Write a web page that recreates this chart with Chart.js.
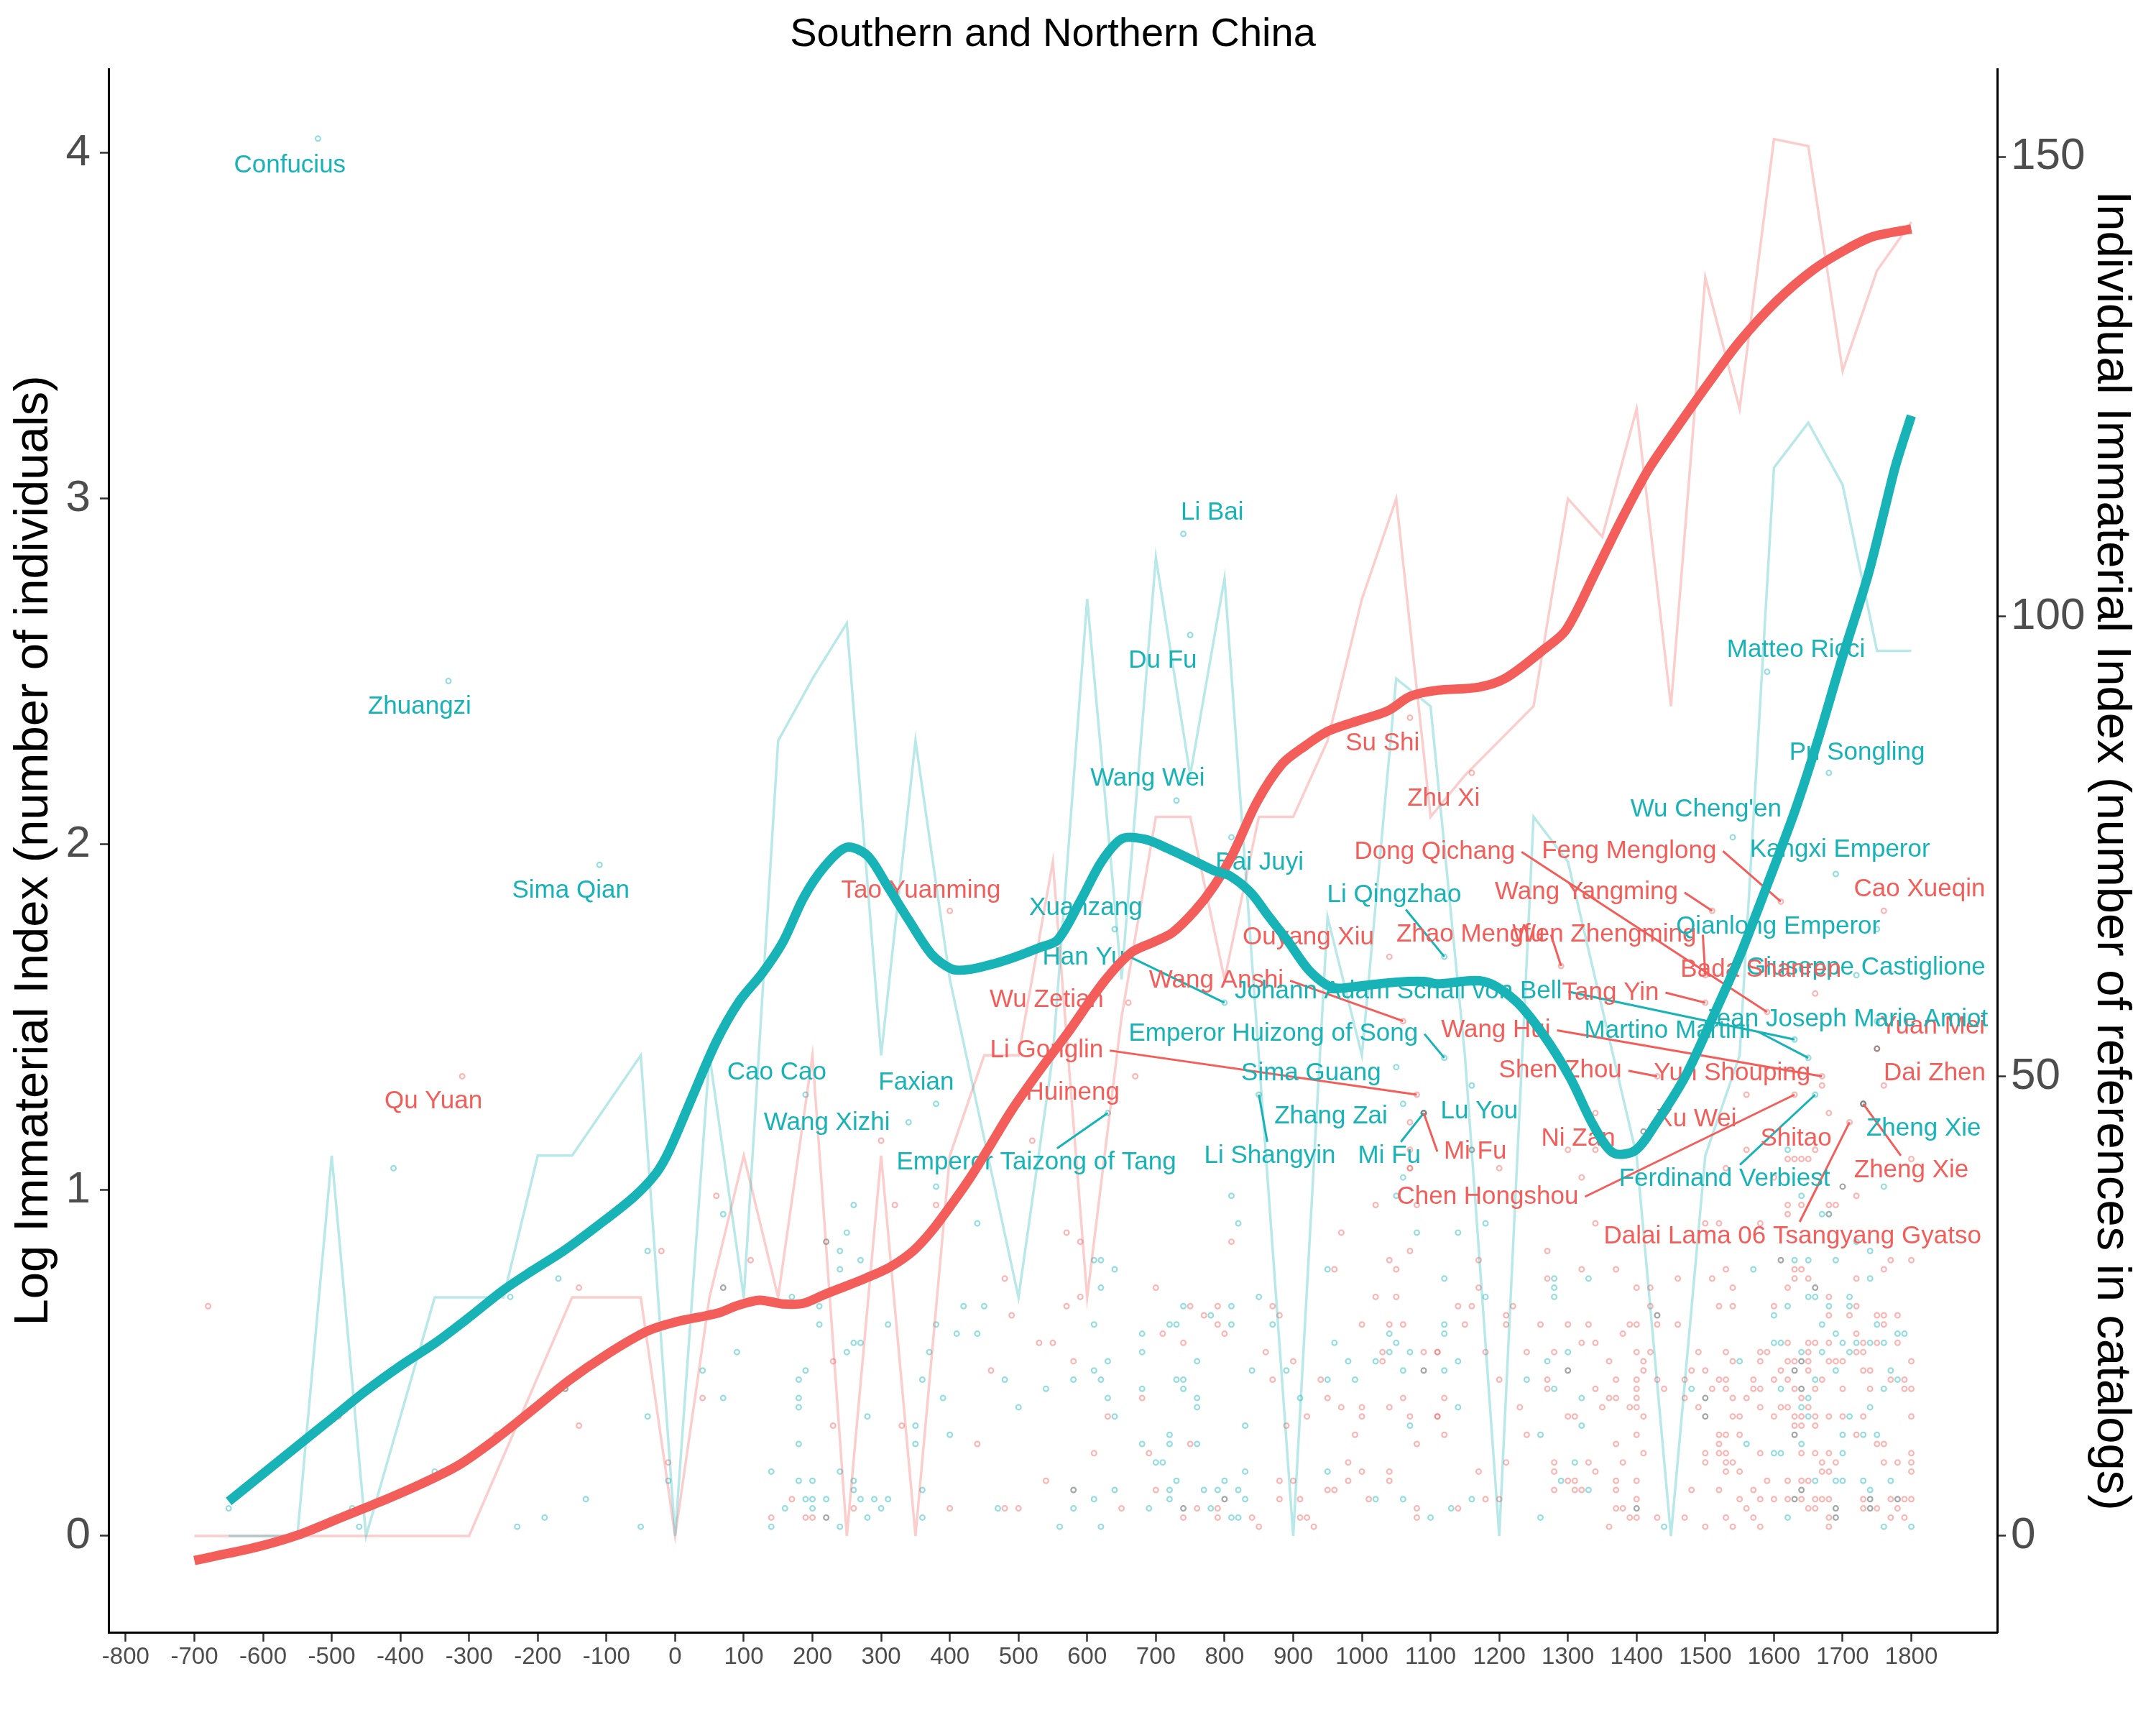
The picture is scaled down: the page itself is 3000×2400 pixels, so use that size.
<!DOCTYPE html>
<html><head><meta charset="utf-8">
<script src="https://cdn.jsdelivr.net/npm/chart.js@4.4.1/dist/chart.umd.min.js"></script>
<style>html,body{margin:0;padding:0;background:#fff;}canvas{display:block;}</style>
</head><body>
<canvas id="c" width="3000" height="2400"></canvas>
<script>
const chartTitle = 'Southern and Northern China';
const leftTitle = 'Log Immaterial Index (number of individuals)';
const rightTitle = 'Individual Immaterial Index (number of references in catalogs)';
const xTicks = [-800,-700,-600,-500,-400,-300,-200,-100,0,100,200,300,400,500,600,700,800,900,1000,1100,1200,1300,1400,1500,1600,1700,1800];
const yTicks = [0,1,2,3,4];
const y2Ticks = [0,50,100,150];

// smoothed trend (log scale, left axis)
const tealSmooth = [[-650,0.10],[-600,0.18],[-550,0.26],[-500,0.34],[-450,0.42],[-400,0.492],[-348,0.56],[-302,0.629],[-248,0.714],[-208,0.767],[-162,0.825],[-115,0.894],[-61,0.979],[-28,1.048],[-8,1.117],[25,1.27],[60,1.43],[93,1.545],[127,1.628],[157,1.718],[187,1.846],[217,1.935],[250,1.992],[280,1.968],[310,1.877],[340,1.782],[374,1.681],[404,1.639],[430,1.639],[464,1.655],[497,1.676],[531,1.702],[557,1.724],[591,1.84],[621,1.951],[651,2.017],[684,2.015],[718,1.988],[751,1.957],[784,1.925],[808,1.909],[838,1.861],[864,1.793],[891,1.724],[924,1.634],[958,1.586],[998,1.591],[1051,1.602],[1091,1.604],[1110,1.597],[1177,1.604],[1223,1.549],[1263,1.453],[1303,1.326],[1337,1.188],[1366,1.108],[1398,1.115],[1430,1.199],[1470,1.326],[1510,1.496],[1550,1.676],[1590,1.882],[1631,2.1],[1664,2.302],[1697,2.524],[1737,2.779],[1761,2.968],[1777,3.095],[1800,3.24]];
const redSmooth = [[-700,-0.071],[-669,-0.058],[-609,-0.032],[-549,0.003],[-489,0.051],[-429,0.099],[-368,0.152],[-315,0.205],[-262,0.279],[-208,0.364],[-155,0.449],[-101,0.523],[-41,0.592],[-1,0.618],[63,0.645],[90,0.666],[123,0.682],[157,0.671],[187,0.673],[217,0.698],[244,0.719],[277,0.745],[314,0.779],[347,0.825],[374,0.883],[404,0.963],[430,1.037],[455,1.117],[490,1.231],[531,1.347],[571,1.453],[624,1.602],[664,1.687],[697,1.718],[724,1.745],[757,1.809],[784,1.878],[811,1.968],[847,2.122],[884,2.233],[918,2.286],[951,2.328],[998,2.36],[1038,2.387],[1071,2.429],[1110,2.446],[1170,2.455],[1210,2.482],[1263,2.561],[1297,2.62],[1338,2.779],[1377,2.936],[1417,3.084],[1457,3.201],[1510,3.349],[1550,3.455],[1604,3.572],[1657,3.662],[1704,3.72],[1744,3.758],[1800,3.78]];

// log number of individuals per period (left axis)
const tealCount = [[-650,0],[-550,0],[-500,1.1],[-450,0],[-350,0.69],[-250,0.69],[-200,1.1],[-150,1.1],[-50,1.39],[0,0],[50,1.39],[100,0.69],[150,2.3],[200,2.48],[250,2.64],[300,1.39],[350,2.3],[400,1.61],[500,0.69],[550,1.39],[600,2.71],[650,1.61],[700,2.83],[750,2.2],[800,2.77],[900,0],[950,1.79],[1000,1.39],[1050,2.48],[1100,2.4],[1150,1.39],[1200,0],[1250,2.08],[1300,1.95],[1400,1.1],[1450,0],[1500,1.1],[1550,1.39],[1600,3.09],[1650,3.22],[1700,3.04],[1750,2.56],[1800,2.56]];
const redCount = [[-700,0],[-300,0],[-150,0.69],[-50,0.69],[0,0],[50,0.69],[100,1.1],[150,0.69],[200,1.39],[250,0],[300,1.1],[350,0],[400,1.1],[450,1.39],[500,1.39],[550,1.95],[600,0.69],[650,1.5],[700,2.08],[750,2.08],[800,1.61],[850,2.08],[900,2.08],[950,2.3],[1000,2.71],[1050,3.0],[1100,2.08],[1150,2.2],[1200,2.3],[1250,2.4],[1300,3.0],[1350,2.89],[1400,3.26],[1450,2.4],[1500,3.64],[1550,3.26],[1600,4.04],[1650,4.02],[1700,3.37],[1750,3.66],[1800,3.8]];

// individuals: [year, references] (right axis)
const tealPts = [[-650,3],[-470,3],[-460,1],[-410,40],[-350,7],[-240,26],[-230,1],[-190,2],[-170,28],[-130,4],[-50,1],[-40,31],[-40,13],[-10,6],[40,18],
[70,35],[90,20],[70,15],[170,26],[210,25],[210,23],[240,31],[240,29],[250,33],[260,36],[270,30],[250,20],[260,21],[270,21],[180,17],[190,18],[180,15],[180,14],[280,13],[180,10],[140,7],[240,7],[180,6],[200,6],[260,6],[260,5],[190,4],[200,4],[220,4],[270,4],[290,4],[310,4],[160,3],[200,3],[300,3],[280,2],[140,1],[240,1],[380,38],[310,23],[380,23],[370,20],[360,17],[390,15],[350,12],[350,10],[400,11],[360,5],[360,2],[440,34],[420,25],[450,25],[410,22],[440,22],[480,17],[500,14],[470,3],[540,16],[580,17],[610,30],[620,30],[620,27],[640,29],[610,23],[630,19],[610,18],[620,17],[630,15],[640,13],[640,5],[610,4],[580,3],[560,1],[620,1],[680,22],[720,23],[730,23],[740,25],[680,20],[730,17],[740,17],[740,16],[680,16],[760,19],[760,15],[760,14],[720,11],[720,10],[680,10],[700,8],[710,8],[760,10],[730,6],[720,5],[720,4],[690,3],[780,24],[810,25],[810,23],[810,37],[820,34],[770,5],[790,5],[800,6],[820,5],[780,3],[810,2],[820,2],[830,12],[830,4],[830,7],[840,18],[850,26],[870,23],[890,18],[910,15],[950,17],[950,29],[960,21],[980,19],[990,17],[950,7],[1020,4],[1020,19],[1040,22],[1050,21],[1040,20],[1060,39],[1050,37],[1060,18],[1070,20],[1070,12],[1080,33],[1060,4],[1100,2],
[1180,34],[1140,33],[1670,35],[1680,35],[1760,38],[1640,37],[1740,31],[1720,32],[1630,30],[1650,30],[1690,30],[1570,29],[1120,28],[1280,28],[1330,28],[1740,28],[1280,27],[1180,26],[1280,26],[1650,26],[1660,26],[1710,26],[1620,25],[1680,25],[1710,25],[1600,24],[1120,23],[1670,23],[1750,23],[1120,22],[1690,22],[1780,22],[1790,22],[1600,21],[1610,21],[1700,21],[1720,21],[1740,21],[1760,21],[1300,20],[1640,20],[1670,20],[1710,20],[1140,19],[1270,19],[1550,19],[1120,18],[1690,18],[1770,18],[1240,17],[1660,17],[1780,17],[1280,16],[1480,16],[1610,16],[1760,16],[1320,15],[1650,15],[1140,14],[1640,14],[1740,14],[1650,13],[1710,13],[1320,12],[1260,11],[1700,11],[1730,11],[1750,11],[1640,10],[1560,10],[1600,9],[1610,9],[1700,9],[1310,8],[1290,6],[1660,6],[1690,6],[1700,6],[1730,6],[1770,6],[1330,5],[1740,5],[1160,4],[1130,3],[1260,2],[1620,2],[1440,1],[1760,1],[1800,1],[1620,42]];
const redPts = [[-680,25],[-490,13],[-260,11],[-140,27],[-140,12],[-20,31],[-10,8],[40,15],[60,37],
[110,30],[230,19],[230,12],[170,4],[260,3],[140,2],[190,2],[200,2],[320,36],[380,36],[330,12],[400,3],[480,28],[490,24],[460,18],[440,10],[480,3],[500,3],[570,33],[590,32],[570,25],[590,26],[530,21],[550,21],[580,19],[630,13],[610,9],[540,6],[650,3],[700,27],[710,22],[750,25],[740,21],[680,15],[690,9],[750,10],[700,5],[760,3],[740,2],[770,24],[790,25],[790,23],[800,22],[810,32],[790,3],[790,2],[840,2],[850,1],[870,25],[880,24],[860,20],[870,17],[900,19],[890,12],[920,13],[880,6],[900,6],[880,4],[910,4],[910,2],[920,2],[930,1],[940,17],[950,15],[960,29],[970,33],[970,14],[1000,23],[1000,14],[1000,13],[990,11],[980,8],[980,6],[950,5],[960,5],[1000,7],[1010,4],[1020,36],[1020,26],[1030,19],[1030,20],[1040,30],[1040,23],[1050,29],[1050,26],[1040,14],[1040,7],[1040,6],[1070,40],[1070,31],[1060,23],[1060,15],[1070,13],[1080,36],[1080,10],[1080,3],[1080,2],[1090,20],[1110,20],[1110,13],
[1200,40],[1300,42],[1340,42],[1320,39],[1340,34],[1500,34],[1520,34],[1580,34],[1530,40],[1620,41],[1640,41],[1620,36],[1620,35],[1640,36],[1680,36],[1720,37],[1800,41],[1270,31],[1170,30],[1770,30],[1800,30],[1320,29],[1370,29],[1530,29],[1630,29],[1640,29],[1760,29],[1270,28],[1460,28],[1510,28],[1630,28],[1650,28],[1720,28],[1170,27],[1400,27],[1420,27],[1540,27],[1620,27],[1680,26],[1140,25],[1160,25],[1220,25],[1420,25],[1520,25],[1540,25],[1600,25],[1720,25],[1210,24],[1680,24],[1710,24],[1750,24],[1760,24],[1780,24],[1150,23],[1210,23],[1260,23],[1300,23],[1330,23],[1390,23],[1400,23],[1430,23],[1460,23],[1760,23],[1380,22],[1720,22],[1320,21],[1340,21],[1620,21],[1650,21],[1660,21],[1680,21],[1730,21],[1750,21],[1780,21],[1110,20],[1180,20],[1240,20],[1280,20],[1400,20],[1420,20],[1490,20],[1530,20],[1580,20],[1590,20],[1650,20],[1720,20],[1730,20],[1360,19],[1410,19],[1540,19],[1580,19],[1620,19],[1630,19],[1650,19],[1680,19],[1690,19],[1700,19],[1800,19],[1410,18],[1480,18],[1500,18],[1610,18],[1650,18],[1730,18],[1740,18],[1200,17],[1270,17],[1370,17],[1400,17],[1430,17],[1470,17],[1520,17],[1530,17],[1570,17],[1600,17],[1620,17],[1670,17],[1770,17],[1790,17],[1270,16],[1340,16],[1400,16],[1440,16],[1510,16],[1530,16],[1570,16],[1580,16],[1630,16],[1660,16],[1700,16],[1740,16],[1790,16],[1800,16],[1120,15],[1360,15],[1370,15],[1400,15],[1470,15],[1540,15],[1560,15],[1640,15],[1230,14],[1350,14],[1390,14],[1400,14],[1490,14],[1580,14],[1610,14],[1620,14],[1650,14],[1110,13],[1300,13],[1310,13],[1410,13],[1540,13],[1550,13],[1600,13],[1630,13],[1640,13],[1660,13],[1680,13],[1700,13],[1730,13],[1800,13],[1630,12],[1640,12],[1660,12],[1120,11],[1240,11],[1400,11],[1520,11],[1530,11],[1550,11],[1720,11],[1370,10],[1520,10],[1750,10],[1760,10],[1410,9],[1500,9],[1520,9],[1530,9],[1580,9],[1640,9],[1660,9],[1680,9],[1800,9],[1210,8],[1280,8],[1330,8],[1380,8],[1500,8],[1530,8],[1540,8],[1670,8],[1690,8],[1760,8],[1780,8],[1800,8],[1170,7],[1280,7],[1340,7],[1530,7],[1550,7],[1670,7],[1680,7],[1800,7],[1300,6],[1310,6],[1370,6],[1400,6],[1590,6],[1620,6],[1640,6],[1650,6],[1280,5],[1310,5],[1320,5],[1370,5],[1480,5],[1520,5],[1570,5],[1180,4],[1200,4],[1400,4],[1550,4],[1580,4],[1600,4],[1620,4],[1640,4],[1660,4],[1670,4],[1680,4],[1730,4],[1770,4],[1790,4],[1800,4],[1140,3],[1370,3],[1380,3],[1560,3],[1650,3],[1660,3],[1730,3],[1750,3],[1780,3],[1390,2],[1400,2],[1430,2],[1470,2],[1530,2],[1570,2],[1680,2],[1770,2],[1790,2],[1360,1],[1500,1],[1540,1],[1580,1],[1680,1],
[1070,45],[1070,42],[1070,40],[300,43],[520,43],[1560,42],[1660,42],[1630,41],[1650,41],[1600,39],[1690,36],[1680,35]];
const bothPts = [[-160,16],[70,27],[220,32],[220,2],[580,5],[740,3],[800,4],[1090,18],[1700,38],[1610,30],[1660,27],[1430,24],[1640,19],[1300,18],[1630,18],[1640,16],[1500,15],[1500,13],[1630,11],[1640,5],[1630,4],[1740,4],[1780,4],[1400,3],[1690,3],[1740,3],[1690,2],[1160,42],[1410,44],[1090,46],[1730,47],[1750,53]];

// named individuals: [name, group, year, references, label year, label references, leader]
const labels = [
['Confucius','t',-520,152,-561,149.1,0],['Zhuangzi','t',-330,93,-372,90.2,0],['Sima Qian','t',-110,73,-152,70.2,0],['Qu Yuan','r',-310,50,-352,47.3,0],
['Li Bai','t',740,109,782,111.3,0],['Du Fu','t',750,98,710,95.2,0],['Wang Wei','t',730,80,688,82.4,0],['Bai Juyi','t',810,76,851,73.2,0],
['Xuanzang','t',640,66,598,68.3,0],['Tao Yuanming','r',400,68,358,70.2,0],['Han Yu','t',800,58,595,62.9,1],['Wu Zetian','r',660,58,541,58.3,0],
['Wang Anshi','r',1060,56,788,60.4,1],['Li Gonglin','r',1080,48,541,52.8,1],['Huineng','r',670,50,579,48.2,0],['Emperor Taizong of Tang','t',630,46,526,40.6,1],
['Cao Cao','t',190,48,148,50.4,0],['Faxian','t',380,47,351,49.3,0],['Wang Xizhi','t',340,45,221,44.9,0],['Emperor Huizong of Song','t',1120,52,871,54.6,1],
['Sima Guang','t',1050,51,926,50.3,0],['Zhang Zai','t',1060,47,955,45.6,0],['Li Shangyin','t',850,48,866,41.3,1],['Mi Fu','t',1090,46,1040,41.3,1],
['Mi Fu','r',1090,46,1165,41.8,1],['Lu You','t',1160,49,1171,46.2,0],['Chen Hongshou','r',1630,48,1183,36.9,1],['Ni Zan','r',1340,46,1315,43.2,0],
['Shen Zhou','r',1430,50,1289,50.6,1],['Wang Hui','r',1670,50,1195,55.0,1],['Johann Adam Schall von Bell','t',1630,54,1053,59.2,1],['Li Qingzhao','t',1120,63,1047,69.7,1],
['Ouyang Xiu','r',1040,63,922,65.1,0],['Zhao Mengfu','r',1290,62,1158,65.4,1],['Wen Zhengming','r',1500,61,1353,65.4,1],['Dong Qichang','r',1590,57,1106,74.4,1],
['Feng Menglong','r',1610,69,1389,74.5,1],['Wang Yangming','r',1510,68,1327,70.0,1],['Tang Yin','r',1500,58,1362,59.1,1],['Martino Martini','t',1650,52,1445,54.9,1],
['Yun Shouping','r',1670,49,1539,50.3,0],['Xu Wei','r',1560,48,1487,45.3,0],['Shitao','r',1680,46,1632,43.2,0],['Ferdinand Verbiest','t',1660,48,1528,38.8,1],
['Zheng Xie','t',1730,47,1818,44.3,0],['Zheng Xie','r',1730,47,1800,39.8,1],['Dai Zhen','r',1760,49,1834,50.3,0],['Yuan Mei','r',1750,53,1831,55.4,0],
['Jean Joseph Marie Amiot','t',1750,56,1705,56.2,0],['Giuseppe Castiglione','t',1720,61,1734,61.8,0],['Bada Shanren','r',1660,59,1581,61.6,0],['Qianlong Emperor','t',1750,66,1606,66.3,0],
['Cao Xueqin','r',1760,68,1812,70.3,0],['Kangxi Emperor','t',1690,72,1696,74.6,0],["Wu Cheng'en",'t',1540,76,1501,79.0,0],['Matteo Ricci','t',1590,94,1632,96.4,0],
['Pu Songling','t',1680,83,1721,85.2,0],['Su Shi','r',1070,89,1030,86.2,0],['Zhu Xi','r',1160,83,1119,80.2,0],['Dalai Lama 06 Tsangyang Gyatso','r',1710,45,1627,32.6,1]
];

const FONT = '"Liberation Sans", Arial, Helvetica, sans-serif';
const RED = '#F35E5A', TEAL = '#17B3B7';
const xy = a => a.map(p => ({x: p[0], y: p[1]}));

const annot = {
  id: 'annot',
  beforeDraw(chart) {
    const c = chart.ctx; c.save(); c.fillStyle = '#fff'; c.fillRect(0, 0, chart.width, chart.height); c.restore();
  },
  beforeDatasetDraw(chart, args) {
    if (args.index !== 1) return;
    const ctx = chart.ctx, xs = chart.scales.x, ys = chart.scales.y2;
    ctx.save();
    ctx.font = '35px ' + FONT;
    ctx.textAlign = 'center';
    ctx.textBaseline = 'middle';
    ctx.lineWidth = 3;
    ctx.lineCap = 'butt';
    for (const L of labels) {
      if (!L[6]) continue;
      const col = L[1] === 'r' ? RED : TEAL;
      const cx = xs.getPixelForValue(L[4]), cy = ys.getPixelForValue(L[5]);
      const px = xs.getPixelForValue(L[2]), py = ys.getPixelForValue(L[3]);
      const hw = ctx.measureText(L[0]).width / 2;
      let sx, sy;
      if (px > cx + hw + 10) { sx = cx + hw + 9; sy = cy; }
      else if (px < cx - hw - 10) { sx = cx - hw - 9; sy = cy; }
      else { const dy = py - cy; const t = 20 / Math.abs(dy); sx = cx + (px - cx) * t; sy = cy + dy * t; }
      ctx.strokeStyle = col;
      ctx.beginPath(); ctx.moveTo(sx, sy); ctx.lineTo(px, py); ctx.stroke();
    }
    for (const L of labels) {
      ctx.fillStyle = L[1] === 'r' ? RED : TEAL;
      ctx.fillText(L[0], xs.getPixelForValue(L[4]), ys.getPixelForValue(L[5]));
    }
    ctx.restore();
  },
  afterDraw(chart) {
    const ctx = chart.ctx, a = chart.chartArea;
    ctx.save();
    ctx.font = '56px ' + FONT;
    ctx.fillStyle = '#000';
    ctx.textAlign = 'center';
    ctx.textBaseline = 'alphabetic';
    ctx.fillText(chartTitle, (a.left + a.right) / 2, 64);
    ctx.restore();
  }
};

const tealAll = tealPts.concat(labels.filter(l => l[1] === 't').map(l => [l[2], l[3]]));
const redAll = redPts.concat(labels.filter(l => l[1] === 'r').map(l => [l[2], l[3]]));

function axisCommon(ticksArr, fontSize, pad) {
  return {
    afterBuildTicks: s => { s.ticks = ticksArr.map(v => ({value: v})); },
    grid: {display: true, drawOnChartArea: false, drawTicks: true, tickLength: 12, tickWidth: 2.5, tickColor: '#333', color: '#333'},
    border: {display: true, color: '#000', width: 3},
    ticks: {font: {size: fontSize, family: FONT}, color: '#4D4D4D', padding: pad, autoSkip: false, maxRotation: 0, callback: v => String(v)}
  };
}

const xAxis = Object.assign(axisCommon(xTicks, 33, 2), {type: 'linear', position: 'bottom', min: -825, max: 1925, afterFit: s => { s.height = 129; }});
xAxis.grid.tickLength = 13;
const yAxis = Object.assign(axisCommon(yTicks, 62, 13), {type: 'linear', position: 'left', min: -0.2786, max: 4.243, afterFit: s => { s.width = 151; },
  title: {display: true, text: leftTitle, color: '#000', font: {size: 67, family: FONT}, padding: {top: 7, bottom: 0}}});
const y2Axis = Object.assign(axisCommon(y2Ticks, 62, 7), {type: 'linear', position: 'right', min: -10.48, max: 159.57, afterFit: s => { s.width = 221; },
  title: {display: true, text: rightTitle, color: '#000', font: {size: 67, family: FONT}, padding: {top: 22, bottom: 0}}});

new Chart(document.getElementById('c'), {
  type: 'scatter',
  data: {datasets: [
    {label: 'teal trend', data: xy(tealSmooth), yAxisID: 'y', showLine: true, borderColor: TEAL, borderWidth: 13, pointRadius: 0, tension: 0.3, borderJoinStyle: 'round', fill: false},
    {label: 'red trend', data: xy(redSmooth), yAxisID: 'y', showLine: true, borderColor: RED, borderWidth: 13, pointRadius: 0, tension: 0.3, borderJoinStyle: 'round', fill: false},
    {label: 'teal count', data: xy(tealCount), yAxisID: 'y', showLine: true, borderColor: 'rgba(23,179,183,0.3)', borderWidth: 3.5, pointRadius: 0, tension: 0, fill: false},
    {label: 'red count', data: xy(redCount), yAxisID: 'y', showLine: true, borderColor: 'rgba(243,94,90,0.3)', borderWidth: 3.5, pointRadius: 0, tension: 0, fill: false},
    {label: 'both', data: xy(bothPts), yAxisID: 'y2', pointRadius: 3.4, pointBorderWidth: 2.2, pointBackgroundColor: 'rgba(0,0,0,0)', pointBorderColor: 'rgba(85,95,95,0.55)'},
    {label: 'teal pts', data: xy(tealAll), yAxisID: 'y2', pointRadius: 3.4, pointBorderWidth: 2.2, pointBackgroundColor: 'rgba(0,0,0,0)', pointBorderColor: 'rgba(23,179,183,0.45)'},
    {label: 'red pts', data: xy(redAll), yAxisID: 'y2', pointRadius: 3.4, pointBorderWidth: 2.2, pointBackgroundColor: 'rgba(0,0,0,0)', pointBorderColor: 'rgba(243,94,90,0.45)'}
  ]},
  options: {
    responsive: false, animation: false, devicePixelRatio: 1,
    layout: {padding: {top: 96, left: 0, right: 0, bottom: 0}},
    plugins: {legend: {display: false}, tooltip: {enabled: false}, title: {display: false}},
    events: [],
    scales: {x: xAxis, y: yAxis, y2: y2Axis}
  },
  plugins: [annot]
});
</script></body></html>
